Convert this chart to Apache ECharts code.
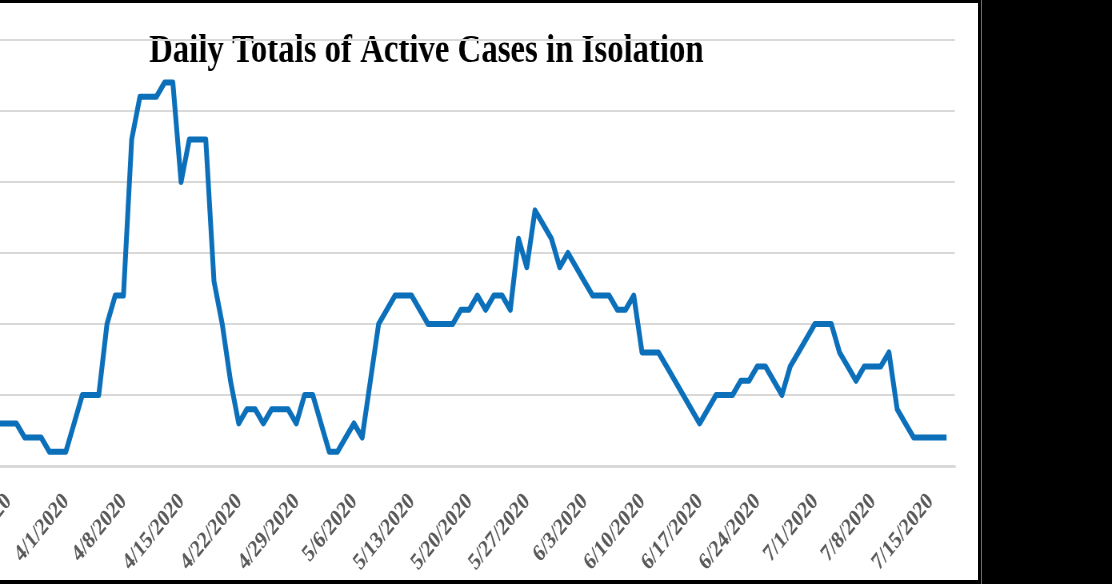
<!DOCTYPE html>
<html>
<head>
<meta charset="utf-8">
<script src="https://cdn.jsdelivr.net/npm/echarts@6/dist/echarts.min.js"></script>
<style>
  html, body { margin: 0; padding: 0; background: #000; }
  #wrap { position: absolute; left: 0; top: 0; width: 1112px; height: 584px; overflow: hidden; background: #000; }
  #panel { position: absolute; left: 0; top: 3px; width: 978px; height: 577px; background: #fff; }
  #edge { position: absolute; left: 981px; top: 0; width: 1px; height: 584px; background: #6a6a6a; }
  #chart { position: absolute; left: 0; top: 0; width: 1390px; height: 584px; transform: scaleX(0.8); transform-origin: 0 0; }
</style>
</head>
<body>
<div id="wrap">
  <div id="panel"></div>
  <div id="edge"></div>
  <div id="chart"></div>
</div>
<script>
// ---- data ----
const titleText = 'Daily Totals of Active Cases in Isolation';
const startDate = [2020, 3, 23];   // first category: 3/23/2020
const categoryCount = 117;         // 3/23/2020 .. 7/17/2020
const tickLabels = ['3/25/2020','4/1/2020','4/8/2020','4/15/2020','4/22/2020','4/29/2020',
  '5/6/2020','5/13/2020','5/20/2020','5/27/2020','6/3/2020','6/10/2020','6/17/2020',
  '6/24/2020','7/1/2020','7/8/2020','7/15/2020'];
const activeCases = [
  3, 3, 3, 2, 2, 2, 1, 1, 1,           // 3/23 - 3/31
  3, 5, 5, 5, 10, 12, 12,              // 4/1 - 4/7
  23, 26, 26, 26, 27, 27, 20,          // 4/8 - 4/14
  23, 23, 23, 13, 10, 6, 3,            // 4/15 - 4/21
  4, 4, 3, 4, 4, 4, 3,                 // 4/22 - 4/28
  5, 5, 3, 1, 1, 2, 3,                 // 4/29 - 5/5
  2, 6, 10, 11, 12, 12, 12,            // 5/6 - 5/12
  11, 10, 10, 10, 10, 11, 11,          // 5/13 - 5/19
  12, 11, 12, 12, 11, 16, 14,          // 5/20 - 5/26
  18, 17, 16, 14, 15, 14, 13,          // 5/27 - 6/2
  12, 12, 12, 11, 11, 12, 8,           // 6/3 - 6/9
  8, 8, 7, 6, 5, 4, 3,                 // 6/10 - 6/16
  4, 5, 5, 5, 6, 6, 7,                 // 6/17 - 6/23
  7, 6, 5, 7, 8, 9, 10,                // 6/24 - 6/30
  10, 10, 8, 7, 6, 7, 7,               // 7/1 - 7/7
  7, 8, 4, 3, 2, 2, 2,                 // 7/8 - 7/14
  2, 2                                 // 7/15 - 7/16
];

// ---- build categories ----
const categories = [];
for (let i = 0; i < categoryCount; i++) {
  const d = new Date(startDate[0], startDate[1] - 1, startDate[2] + i);
  categories.push((d.getMonth() + 1) + '/' + d.getDate() + '/' + d.getFullYear());
}

const chart = echarts.init(document.getElementById('chart'), null, { renderer: 'canvas' });
chart.setOption({
  animation: false,
  backgroundColor: 'transparent',
  graphic: [{
    type: 'text',
    x: 533,
    y: 51,
    style: {
      text: titleText,
      fill: '#000',
      font: 'bold 41px "Liberation Serif"',
      textAlign: 'center',
      textVerticalAlign: 'middle'
    }
  }],
  grid: { left: 0, top: 40, width: 1193.5, height: 426, containLabel: false, outerBoundsMode: 'none' },
  xAxis: {
    type: 'category',
    data: categories,
    boundaryGap: false,
    axisTick: { show: false },
    axisLine: { show: true, lineStyle: { color: '#d9d9d9', width: 3 } },
    splitLine: { show: false },
    axisLabel: {
      interval: function (index, value) { return tickLabels.indexOf(value) >= 0; },
      rotate: 45,
      margin: 22,
      padding: [0, 14, 0, 0],
      hideOverlap: false,
      color: '#595959',
      fontFamily: 'Liberation Serif',
      fontWeight: 'bold',
      fontSize: 24
    }
  },
  yAxis: {
    type: 'value',
    min: 0,
    max: 30,
    interval: 5,
    axisLine: { show: false },
    axisTick: { show: false },
    axisLabel: { show: false },
    splitLine: { lineStyle: { color: '#d9d9d9', width: 2 } }
  },
  series: [{
    type: 'line',
    data: activeCases,
    symbol: 'none',
    smooth: false,
    lineStyle: { color: '#0b6fba', width: 6, join: 'round', cap: 'butt' }
  }]
});
</script>
</body>
</html>
